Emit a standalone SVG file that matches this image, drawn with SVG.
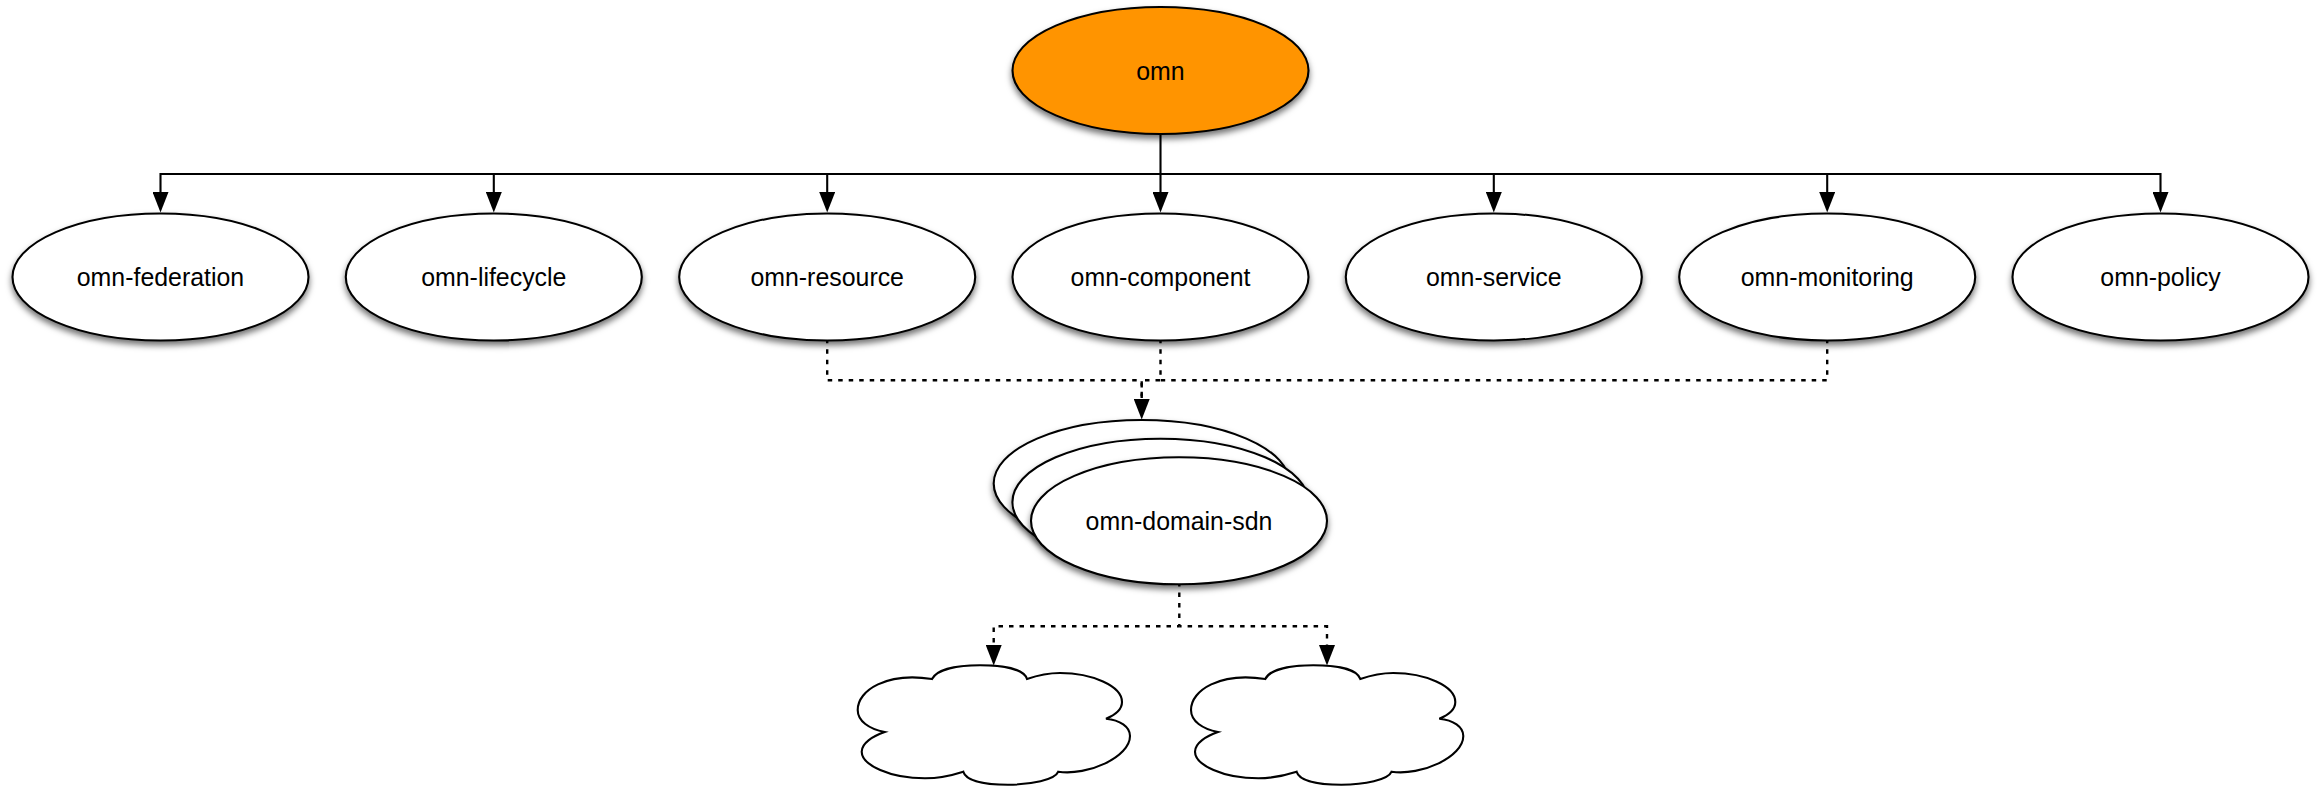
<svg xmlns="http://www.w3.org/2000/svg" width="2320" height="793" viewBox="0 0 2320 793">
<style>
text{font-family:"Liberation Sans",Arial,sans-serif;font-size:24.9px;fill:#000;text-anchor:middle}
.n{fill:#fff;stroke:#000;stroke-width:2.1;filter:url(#sh)}
.c{fill:#fff;stroke:#000;stroke-width:2.1}
.e{fill:none;stroke:#000;stroke-width:2.1}
.a{marker-end:url(#ah)}
.d{stroke-width:2.4;stroke-dasharray:4.5 6;stroke-dashoffset:2.2}
</style>
<defs>
<filter id="sh" x="-10%" y="-10%" width="120%" height="130%"><feDropShadow dx="0" dy="4" stdDeviation="3" flood-color="#000" flood-opacity="0.55"/></filter>
<marker id="ah" markerUnits="userSpaceOnUse" viewBox="0 0 20.5 16" markerWidth="20.5" markerHeight="16" refX="0" refY="8" orient="auto"><path d="M0,0L20.5,8L0,16Z" fill="#000"/></marker>
<path id="cloud" d="M932,679C937,669 958,665.3 980,665.3C1003,665.3 1024,669 1027,679C1040,674.5 1050,673 1060,673C1092,673 1122,686 1122,702C1122,710 1115,715 1106,718.7C1120,720 1130,727 1130,736C1130,757 1088,776 1058.3,771.7C1055,780 1031,784.7 1008,784.7C985,784.7 966,781 963.3,771.7C950,776 938,778.3 925,778.3C890,778.3 861.7,765 861.7,751.7C861.7,743 873,736 884.7,732C869,729 857.7,721 857.7,710C857.7,690 887,672 932,679Z"/>
</defs>
<g id="connectors">
<path class="e a" d="M1160.5,134V192"/>
<path class="e a" d="M1160.5,174H160.5V192"/>
<path class="e a" d="M493.8,174V192"/>
<path class="e a" d="M827.2,174V192"/>
<path class="e a" d="M1160.5,174H2160.5V192"/>
<path class="e a" d="M1493.8,174V192"/>
<path class="e a" d="M1827.2,174V192"/>
<path class="e d a" d="M827.2,341V380.3H1141.7V399"/>
<path class="e d" d="M1160.5,341V380.3H1141.7V399"/>
<path class="e d" d="M1827.2,341V380.3H1160.5"/>
<path class="e d" d="M1179.3,626.3V585"/>
<path class="e d a" d="M1179.3,626.3H993.7V645"/>
<path class="e d a" d="M1179.3,626.3H1327V645"/>
</g>
<g id="omn"><ellipse class="n" style="fill:#ff9400" cx="1160.5" cy="70.5" rx="148" ry="63.5"/><text x="1160.5" y="80">omn</text></g>
<g id="omn-federation"><ellipse class="n" cx="160.5" cy="277" rx="148" ry="63.5"/><text x="160.5" y="286">omn-federation</text></g>
<g id="omn-lifecycle"><ellipse class="n" cx="493.8" cy="277" rx="148" ry="63.5"/><text x="493.8" y="286">omn-lifecycle</text></g>
<g id="omn-resource"><ellipse class="n" cx="827.2" cy="277" rx="148" ry="63.5"/><text x="827.2" y="286">omn-resource</text></g>
<g id="omn-component"><ellipse class="n" cx="1160.5" cy="277" rx="148" ry="63.5"/><text x="1160.5" y="286">omn-component</text></g>
<g id="omn-service"><ellipse class="n" cx="1493.8" cy="277" rx="148" ry="63.5"/><text x="1493.8" y="286">omn-service</text></g>
<g id="omn-monitoring"><ellipse class="n" cx="1827.2" cy="277" rx="148" ry="63.5"/><text x="1827.2" y="286">omn-monitoring</text></g>
<g id="omn-policy"><ellipse class="n" cx="2160.5" cy="277" rx="148" ry="63.5"/><text x="2160.5" y="286">omn-policy</text></g>
<g id="omn-domain-sdn">
<ellipse class="n" cx="1141.7" cy="483.5" rx="148" ry="63.5"/>
<ellipse class="n" cx="1160.4" cy="502.2" rx="148" ry="63.5"/>
<ellipse class="n" cx="1179" cy="520.8" rx="148" ry="63.5"/>
<text x="1179" y="529.5">omn-domain-sdn</text>
</g>
<g id="cloud-1"><use class="c" href="#cloud"/></g>
<g id="cloud-2"><use class="c" href="#cloud" x="333.3"/></g>
</svg>
